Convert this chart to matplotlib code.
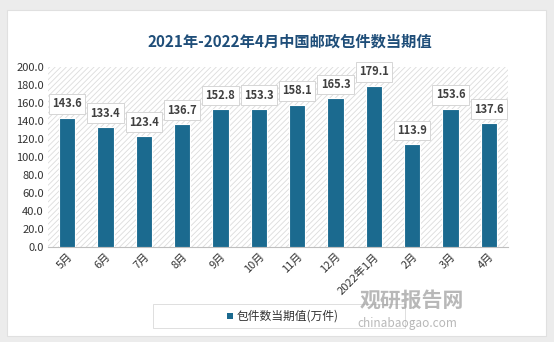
import matplotlib.pyplot as plt
from matplotlib.patches import Rectangle

plt.rcParams['font.family'] = ['Noto Sans CJK SC', 'DejaVu Sans']
plt.rcParams['hatch.color'] = '#d9d9d9'
plt.rcParams['hatch.linewidth'] = 0.6

months = ["5月", "6月", "7月", "8月", "9月", "10月", "11月", "12月",
          "2022年1月", "2月", "3月", "4月"]
values = [143.6, 133.4, 123.4, 136.7, 152.8, 153.3, 158.1, 165.3,
          179.1, 113.9, 153.6, 137.6]
title = "2021年-2022年4月中国邮政包件数当期值"
legend_label = "包件数当期值(万件)"

BAR_COLOR = "#1b6a8f"

fig = plt.figure(figsize=(5.54, 3.42), dpi=100)
fig.patch.set_facecolor("#ececec")
# white card
fig.add_artist(Rectangle((7 / 554, 6 / 342), 539 / 554, 326 / 342,
                         transform=fig.transFigure, facecolor="white",
                         edgecolor="#e0e0e0", lw=0.8, zorder=0))

ax = fig.add_axes([48 / 554, (342 - 247) / 342, 460 / 554, 180 / 342])
ax.set_facecolor("white")
ax.add_patch(Rectangle((0, 0), 1, 1, transform=ax.transAxes, facecolor="white",
                       hatch="//////", edgecolor="#dcdcdc", lw=0, zorder=0))

x = range(len(months))
ax.bar(x, values, width=0.42, color=BAR_COLOR, edgecolor="white",
       linewidth=0.8, zorder=3)

for i, v in enumerate(values):
    ax.annotate(f"{v:.1f}", (i, v), xytext=(0, 10), textcoords="offset points",
                ha="center", va="center", fontsize=8, color="#404040",
                fontweight="bold", zorder=5,
                bbox=dict(boxstyle="square,pad=0.3", fc="white",
                          ec="#d0d0d0", lw=0.6))

ax.set_xlim(-0.5, len(months) - 0.5)
ax.set_ylim(0, 200)
ax.set_yticks(range(0, 201, 20))
ax.set_yticklabels([f"{t:.1f}" for t in range(0, 201, 20)], fontsize=8,
                   color="#333333")
ax.set_xticks(list(x))
ax.set_xticklabels(months, rotation=45, ha="right", rotation_mode="anchor",
                   fontsize=8, color="#333333")
ax.tick_params(axis="both", length=0, pad=3)
for s in ["top", "right", "left"]:
    ax.spines[s].set_visible(False)
ax.spines["bottom"].set_color("#bfbfbf")

fig.text(290 / 554, 1 - 42 / 342, title, ha="center", va="center",
         fontsize=11, fontweight="bold", color="#1f4e79")

# legend
fig.add_artist(Rectangle((153 / 554, (342 - 328) / 342), 252 / 554, 24 / 342,
                         transform=fig.transFigure, facecolor="white",
                         edgecolor="#d9d9d9", lw=0.6, zorder=1))
fig.add_artist(Rectangle((227 / 554, (342 - 319) / 342), 6 / 554, 6 / 342,
                         transform=fig.transFigure, facecolor=BAR_COLOR,
                         lw=0, zorder=2))
fig.text(237 / 554, 1 - 316 / 342, legend_label, ha="left", va="center",
         fontsize=8.5, color="#333333", zorder=2)

# watermark
fig.text(360 / 554, 1 - 300 / 342, "观研报告网", ha="left", va="center",
         fontsize=15, fontweight="bold", color="#9a9a9a", alpha=0.7, zorder=3)
fig.text(357 / 554, 1 - 324 / 342, "chinabaogao.com", ha="left", va="center",
         fontsize=8.5, color="#9a9a9a", alpha=0.7, zorder=3)

fig.savefig("out.png", dpi=100)
